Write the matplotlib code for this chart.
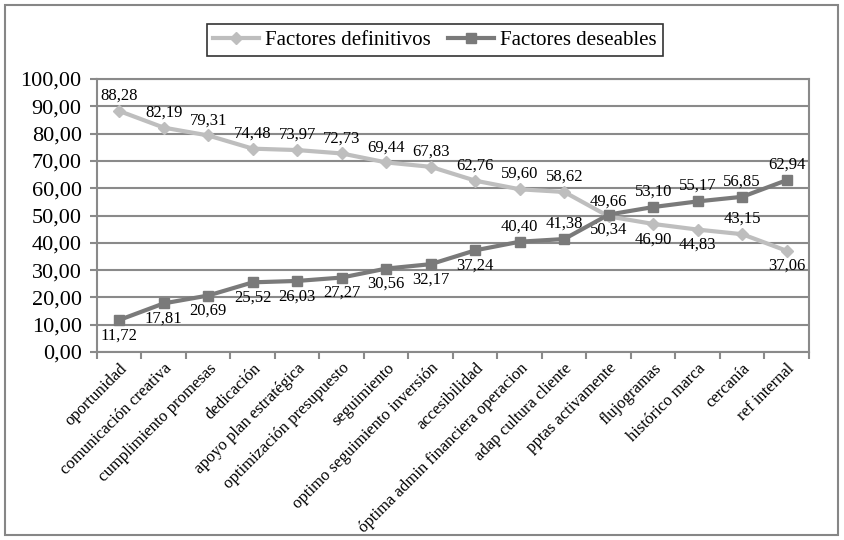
import numpy as np
import matplotlib.pyplot as plt
from matplotlib.patches import Rectangle

categorias = ['oportunidad', 'comunicación creativa', 'cumplimiento promesas', 'dedicación',
              'apoyo plan estratégica', 'optimización presupuesto', 'seguimiento',
              'optimo seguimiento inversión', 'accesibilidad', 'óptima admin financiera operacion',
              'adap cultura cliente', 'pptas activamente', 'flujogramas', 'histórico marca',
              'cercanía', 'ref internal']
definitivos = [88.28, 82.19, 79.31, 74.48, 73.97, 72.73, 69.44, 67.83, 62.76, 59.60,
               58.62, 49.66, 46.90, 44.83, 43.15, 37.06]
deseables = [11.72, 17.81, 20.69, 25.52, 26.03, 27.27, 30.56, 32.17, 37.24, 40.40,
             41.38, 50.34, 53.10, 55.17, 56.85, 62.94]
# label side for each point: +1 above, -1 below
lado_def = [1, 1, 1, 1, 1, 1, 1, 1, 1, 1, 1, 1, -1, -1, 1, -1]
lado_des = [-1, -1, -1, -1, -1, -1, -1, -1, -1, 1, 1, -1, 1, 1, 1, 1]

plt.rcParams['font.family'] = ['Liberation Serif', 'DejaVu Serif']

fig = plt.figure(figsize=(8.45, 5.4), dpi=100)
ax = fig.add_axes([97 / 845, 1 - 352 / 540, 712 / 845, 273 / 540])

# outer chart frame
fig.patches.append(Rectangle((5 / 845, 5 / 540), 833 / 845, 530 / 540, transform=fig.transFigure,
                             fill=False, edgecolor='#868686', linewidth=1.5))

x = np.arange(len(categorias))
c_def = '#BEBEBE'
c_des = '#7A7A7A'
ax.plot(x, definitivos, color=c_def, linewidth=3, marker='D', markersize=6,
        label='Factores definitivos', zorder=3)
ax.plot(x, deseables, color=c_des, linewidth=3, marker='s', markersize=7,
        label='Factores deseables', zorder=4)

def etiqueta(v):
    return f'{v:.2f}'.replace('.', ',')

for xi, v, s in zip(x, definitivos, lado_def):
    ax.annotate(etiqueta(v), (xi, v), xytext=(0, 11 * s), textcoords='offset points',
                ha='center', va='center', fontsize=12)
for xi, v, s in zip(x, deseables, lado_des):
    ax.annotate(etiqueta(v), (xi, v), xytext=(0, 11 * s), textcoords='offset points',
                ha='center', va='center', fontsize=12)

ax.set_xlim(-0.5, len(categorias) - 0.5)
ax.set_ylim(0, 100)
ax.set_yticks(np.arange(0, 101, 10))
ax.set_yticklabels([etiqueta(v) for v in np.arange(0, 101, 10)], fontsize=16)
ax.yaxis.grid(True, color='#8A8A8A', linewidth=1.5)
ax.set_axisbelow(True)

ax.set_xticks(np.arange(-0.5, len(categorias), 1))
ax.set_xticklabels([])
ax.set_xticks(x, minor=True)
ax.set_xticklabels(categorias, minor=True, rotation=45, ha='right', va='top',
                   rotation_mode='anchor', fontsize=12)
ax.tick_params(axis='x', which='minor', length=0, pad=6)
ax.tick_params(axis='x', which='major', length=5, width=1.5, color='#8A8A8A')
ax.tick_params(axis='y', length=5, width=1.5, color='#8A8A8A', pad=6)
for sp in ax.spines.values():
    sp.set_color('#8A8A8A')
    sp.set_linewidth(1.5)

leg = fig.legend(loc='center', bbox_to_anchor=(435 / 845, 1 - 40 / 540), ncol=2,
                 fontsize=15, frameon=True, fancybox=False, edgecolor='black',
                 handlelength=2.2, handletextpad=0.3, columnspacing=0.8,
                 borderpad=0.3)
leg.get_frame().set_linewidth(1.2)

fig.savefig('out.png', dpi=100)
